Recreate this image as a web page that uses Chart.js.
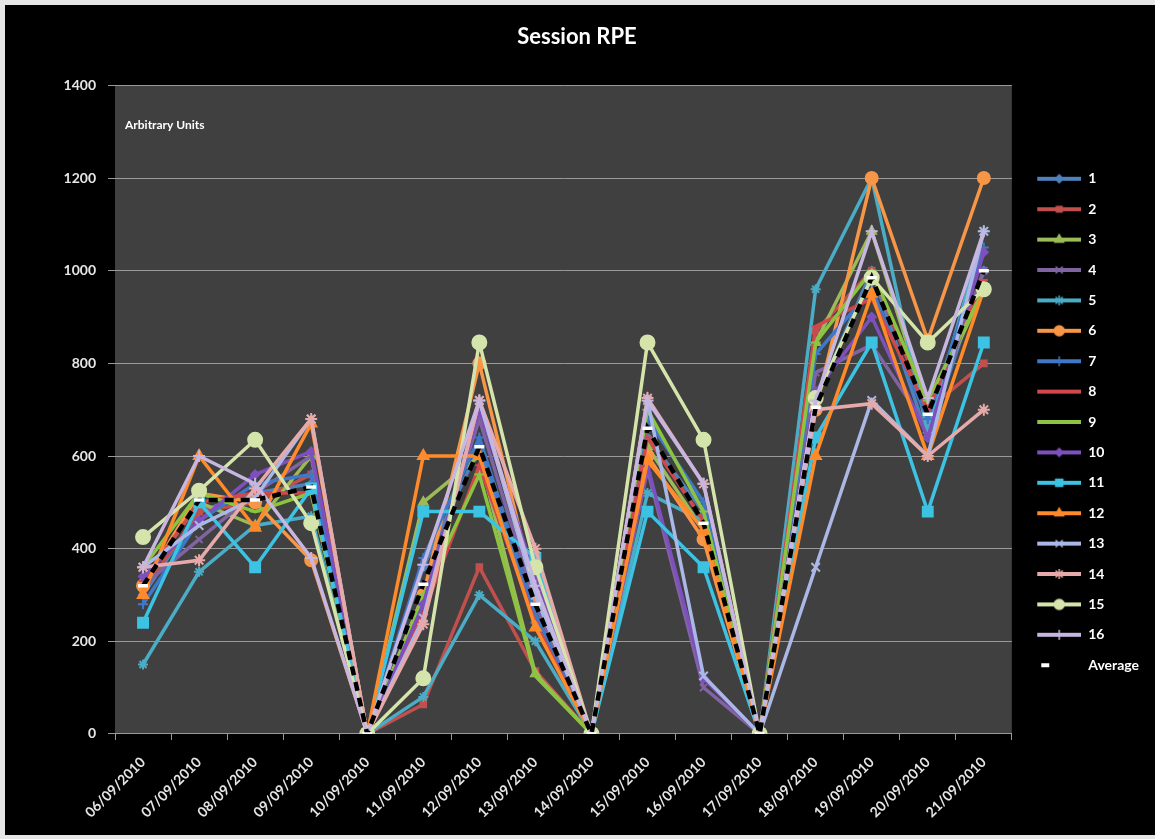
<!DOCTYPE html>
<html>
<head>
<meta charset="utf-8">
<title>Session RPE</title>
<script src="https://cdn.jsdelivr.net/npm/chart.js@4.4.1/dist/chart.umd.min.js"></script>
<style>
  html, body { margin: 0; padding: 0; background: #e6e6e6; }
  #wrap { position: absolute; left: 5px; top: 5px; width: 1150px; height: 830px; background: #000; }
</style>
</head>
<body>
<div id="wrap"><canvas id="rpe-chart" width="1150" height="830"></canvas></div>
<script>
// categories
var dates = ['06/09/2010', '07/09/2010', '08/09/2010', '09/09/2010', '10/09/2010', '11/09/2010',
             '12/09/2010', '13/09/2010', '14/09/2010', '15/09/2010', '16/09/2010', '17/09/2010',
             '18/09/2010', '19/09/2010', '20/09/2010', '21/09/2010'];

// session RPE per player (arbitrary units)
var p1  = [300, 480, 520, 540, 0, 360, 620, 240, 0, 640, 480, 0, 720, 1000, 640, 1000];
var p2  = [310, 480, 500, 560, 0, 64, 360, 136, 0, 600, 420, 0, 870, 1000, 700, 800];
var p3  = [330, 500, 450, 600, 0, 500, 600, 130, 0, 620, 440, 0, 845, 1085, 700, 960];
var p4  = [320, 420, 520, 600, 0, 300, 680, 280, 0, 570, 100, 0, 780, 840, 660, 1000];
var p5  = [150, 350, 450, 470, 0, 80, 300, 200, 0, 520, 460, 0, 960, 1200, 650, 1085];
var p6  = [320, 520, 500, 375, 0, 300, 800, 300, 0, 600, 420, 0, 700, 1200, 850, 1200];
var p7  = [280, 460, 540, 560, 0, 380, 640, 260, 0, 680, 500, 0, 820, 960, 680, 1050];
var p8  = [330, 500, 520, 520, 0, 260, 580, 240, 0, 640, 460, 0, 880, 940, 700, 980];
var p9  = [360, 520, 480, 520, 0, 300, 560, 125, 0, 700, 480, 0, 845, 1000, 720, 960];
var p10 = [340, 460, 560, 610, 0, 280, 700, 340, 0, 580, 120, 0, 740, 900, 640, 1040];
var p11 = [240, 500, 360, 530, 0, 480, 480, 380, 0, 480, 360, 0, 640, 845, 480, 845];
var p12 = [300, 600, 445, 670, 0, 600, 600, 230, 0, 590, 440, 0, 600, 950, 600, 960];
var p13 = [360, 450, 510, 680, 0, 250, 720, 300, 0, 720, 125, 0, 360, 720, 600, 1085];
var p14 = [360, 375, 530, 680, 0, 237, 720, 400, 0, 725, 540, 0, 700, 713, 600, 700];
var p15 = [425, 525, 635, 455, 0, 120, 845, 360, 0, 845, 635, 0, 725, 985, 845, 960];
var p16 = [360, 600, 540, 380, 0, 365, 720, 320, 0, 720, 540, 0, 720, 1085, 725, 1085];
var average = [320, 505, 505, 533, 0, 323, 620, 280, 0, 660, 455, 0, 705, 985, 690, 1000];

var playerNames = ['1', '2', '3', '4', '5', '6', '7', '8', '9', '10', '11', '12', '13', '14', '15', '16'];
var playerData = [p1, p2, p3, p4, p5, p6, p7, p8, p9, p10, p11, p12, p13, p14, p15, p16];

// y axis ticks
var yTicks = [0, 200, 400, 600, 800, 1000, 1200, 1400];

// looks
var playerColors = ['#4F81BD', '#C0504D', '#9BBB59', '#8064A2', '#4BACC6', '#F79646',
                    '#3F78C8', '#D0484C', '#8CC43F', '#7E50BE', '#3CC2E2', '#FF8A2A',
                    '#ABB8E6', '#E6AAAA', '#D5E4AA', '#C6B6E0'];
var playerMarkers = ['rectRot', 'rect', 'triangle', 'crossRot', 'star', 'circle', 'cross', 'line',
                     'line', 'rectRot', 'rect', 'triangle', 'crossRot', 'star', 'circle', 'cross'];
var markerSizes = [4, 4, 5, 5, 5, 6, 5, 4, 5, 4, 7, 6, 6, 6, 7, 6];

var fontFamily = 'Lato, "Open Sans", sans-serif';
Chart.defaults.font.family = fontFamily;

// small line + marker pictures for the legend
function legendIcon( color, marker, size ) {
  var c = document.createElement('canvas');
  c.width = 53; c.height = 14;
  var ctx = c.getContext('2d');
  ctx.strokeStyle = color;
  ctx.fillStyle = color;
  ctx.lineWidth = 4;
  ctx.beginPath(); ctx.moveTo(9, 7); ctx.lineTo(53, 7); ctx.stroke();
  ctx.lineWidth = 1.5;
  Chart.helpers.drawPoint(ctx, { pointStyle: marker, radius: Math.min(size, 5), borderWidth: 1.5 }, 31, 7);
  return c;
}

function averageIcon() {
  var c = document.createElement('canvas');
  c.width = 53; c.height = 14;
  var ctx = c.getContext('2d');
  ctx.fillStyle = '#ffffff';
  ctx.fillRect(13, 5, 8, 4);
  return c;
}

var icons = [];
var datasets = [];
for (var i = 0; i < playerData.length; i++) {
  icons.push( legendIcon( playerColors[i], playerMarkers[i], markerSizes[i] ) );
  datasets.push({
    label: playerNames[i],
    data: playerData[i],
    borderColor: playerColors[i],
    backgroundColor: playerColors[i],
    borderWidth: 3.5,
    pointStyle: playerMarkers[i],
    pointRadius: markerSizes[i],
    pointBorderWidth: 2,
    pointBackgroundColor: playerColors[i],
    pointBorderColor: playerColors[i],
    order: 40 - i
  });
}
icons.push( averageIcon() );
datasets.push({
  label: 'Average',
  data: average,
  borderColor: '#000000',
  backgroundColor: '#000000',
  borderWidth: 4.5,
  borderDash: [9, 7],
  pointStyle: 'line',
  pointRadius: 5,
  pointBorderWidth: 3.5,
  pointBorderColor: '#ffffff',
  pointBackgroundColor: '#ffffff',
  order: 0
});

// dark grey plot area
var plotBackground = {
  id: 'plotBackground',
  beforeDraw: function( chart ) {
    var a = chart.chartArea, ctx = chart.ctx;
    ctx.save();
    ctx.fillStyle = '#404040';
    ctx.fillRect(a.left, a.top, a.right - a.left, a.bottom - a.top);
    ctx.restore();
  }
};

// "Arbitrary Units" note inside the plot
var unitsNote = {
  id: 'unitsNote',
  beforeDatasetsDraw: function( chart ) {
    var a = chart.chartArea, ctx = chart.ctx;
    ctx.save();
    ctx.fillStyle = '#ffffff';
    ctx.font = 'bold 12px ' + fontFamily;
    ctx.textBaseline = 'middle';
    ctx.fillText('Arbitrary Units', a.left + 10, a.top + 40);
    ctx.restore();
  }
};

var rpeChart = new Chart(
  document.getElementById('rpe-chart').getContext('2d'),
  {
    type: 'line',
    data: { labels: dates, datasets: datasets },
    plugins: [plotBackground, unitsNote],
    options: {
      responsive: false,
      animation: false,
      layout: { padding: { left: 0, right: 6, bottom: 0, top: 0 } },
      elements: { line: { tension: 0 } },
      scales: {
        x: {
          offset: true,
          grid: { display: true, drawOnChartArea: false, drawTicks: true, tickLength: 6, color: '#9a9a9a', offset: true },
          border: { display: true, color: '#9a9a9a', width: 1 },
          ticks: { color: '#e6e6e6', font: { size: 14, weight: 'bold' }, maxRotation: 45, minRotation: 45, padding: 14 }
        },
        y: {
          min: yTicks[0],
          max: yTicks[yTicks.length - 1],
          afterFit: function( scale ) { scale.width = 110; },
          afterBuildTicks: function( scale ) { scale.ticks = yTicks.map(function( v ) { return { value: v }; }); },
          grid: { color: '#9a9a9a', lineWidth: 1, tickLength: 7 },
          border: { display: false },
          ticks: {
            color: '#e6e6e6',
            font: { size: 14, weight: 'bold' },
            padding: 12,
            callback: function( value ) { return String(value); }
          }
        }
      },
      plugins: {
        title: {
          display: true,
          text: 'Session RPE',
          color: '#ffffff',
          font: { size: 22, weight: 'bold' },
          padding: { top: 19, bottom: 35 }
        },
        legend: {
          position: 'right',
          align: 'start',
          title: { display: true, text: '', padding: { top: 0, bottom: 136 } },
          labels: {
            color: '#ffffff',
            font: { size: 14, weight: 'bold' },
            usePointStyle: true,
            pointStyleWidth: 53,
            padding: 16.4,
            sort: function( a, b ) { return a.datasetIndex - b.datasetIndex; },
            generateLabels: function( chart ) {
              var items = Chart.defaults.plugins.legend.labels.generateLabels( chart );
              items.forEach(function( item ) { item.pointStyle = icons[item.datasetIndex]; });
              return items;
            }
          }
        },
        tooltip: { enabled: false }
      }
    }
  }
);
</script>
</body>
</html>
